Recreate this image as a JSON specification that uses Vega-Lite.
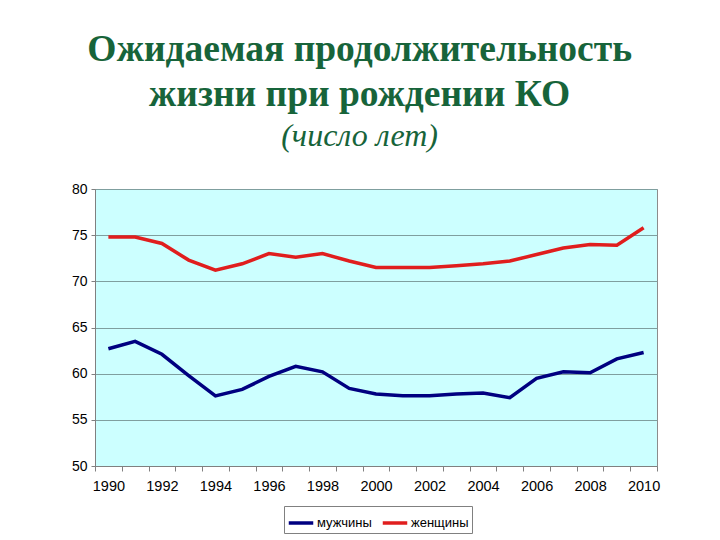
{
  "$schema": "https://vega.github.io/schema/vega-lite/v6.json",
  "width": 562,
  "height": 277,
  "autosize": {"type": "none"},
  "padding": {"left": 95, "top": 189, "right": 63, "bottom": 74},
  "background": "white",
  "title": {
    "text": ["Ожидаемая продолжительность", "жизни при рождении КО"],
    "subtitle": "(число лет)",
    "font": "Liberation Serif",
    "fontSize": 37.5,
    "fontWeight": "bold",
    "color": "#17643a",
    "lineHeight": 45,
    "subtitleFont": "Liberation Serif",
    "subtitleFontSize": 32,
    "subtitleFontStyle": "italic",
    "subtitleFontWeight": "normal",
    "subtitleColor": "#17643a",
    "subtitlePadding": 8,
    "anchor": "middle",
    "frame": "bounds",
    "offset": 30,
    "dx": -6
  },
  "data": {
    "values": [
      {"year": "1990", "sex": "мужчины", "value": 62.7},
      {"year": "1991", "sex": "мужчины", "value": 63.5},
      {"year": "1992", "sex": "мужчины", "value": 62.1},
      {"year": "1993", "sex": "мужчины", "value": 59.8},
      {"year": "1994", "sex": "мужчины", "value": 57.6},
      {"year": "1995", "sex": "мужчины", "value": 58.3},
      {"year": "1996", "sex": "мужчины", "value": 59.7},
      {"year": "1997", "sex": "мужчины", "value": 60.8},
      {"year": "1998", "sex": "мужчины", "value": 60.2},
      {"year": "1999", "sex": "мужчины", "value": 58.4},
      {"year": "2000", "sex": "мужчины", "value": 57.8},
      {"year": "2001", "sex": "мужчины", "value": 57.6},
      {"year": "2002", "sex": "мужчины", "value": 57.6},
      {"year": "2003", "sex": "мужчины", "value": 57.8},
      {"year": "2004", "sex": "мужчины", "value": 57.9},
      {"year": "2005", "sex": "мужчины", "value": 57.4},
      {"year": "2006", "sex": "мужчины", "value": 59.5},
      {"year": "2007", "sex": "мужчины", "value": 60.2},
      {"year": "2008", "sex": "мужчины", "value": 60.1},
      {"year": "2009", "sex": "мужчины", "value": 61.6},
      {"year": "2010", "sex": "мужчины", "value": 62.3},
      {"year": "1990", "sex": "женщины", "value": 74.8},
      {"year": "1991", "sex": "женщины", "value": 74.8},
      {"year": "1992", "sex": "женщины", "value": 74.1},
      {"year": "1993", "sex": "женщины", "value": 72.3},
      {"year": "1994", "sex": "женщины", "value": 71.2},
      {"year": "1995", "sex": "женщины", "value": 71.9},
      {"year": "1996", "sex": "женщины", "value": 73.0},
      {"year": "1997", "sex": "женщины", "value": 72.6},
      {"year": "1998", "sex": "женщины", "value": 73.0},
      {"year": "1999", "sex": "женщины", "value": 72.2},
      {"year": "2000", "sex": "женщины", "value": 71.5},
      {"year": "2001", "sex": "женщины", "value": 71.5},
      {"year": "2002", "sex": "женщины", "value": 71.5},
      {"year": "2003", "sex": "женщины", "value": 71.7},
      {"year": "2004", "sex": "женщины", "value": 71.9},
      {"year": "2005", "sex": "женщины", "value": 72.2},
      {"year": "2006", "sex": "женщины", "value": 72.9},
      {"year": "2007", "sex": "женщины", "value": 73.6},
      {"year": "2008", "sex": "женщины", "value": 74.0},
      {"year": "2009", "sex": "женщины", "value": 73.9},
      {"year": "2010", "sex": "женщины", "value": 75.8}
    ]
  },
  "mark": {"type": "line", "strokeWidth": 3.5},
  "encoding": {
    "x": {
      "field": "year",
      "type": "ordinal",
      "bandPosition": 0.5,
      "scale": {"type": "band", "paddingInner": 0, "paddingOuter": 0},
      "axis": {
        "title": null,
        "grid": false,
        "labelAngle": 0,
        "tickBand": "extent",
        "labelExpr": "toNumber(datum.value) % 2 == 0 ? datum.label : ''",
        "labelOverlap": false,
        "labelFont": "Liberation Sans",
        "labelFontSize": 14.5,
        "labelColor": "#000000",
        "labelPadding": 8,
        "tickSize": 5,
        "tickColor": "#808080",
        "domainColor": "#808080"
      }
    },
    "y": {
      "field": "value",
      "type": "quantitative",
      "scale": {"domain": [50, 80], "nice": false, "zero": false},
      "axis": {
        "title": null,
        "values": [50, 55, 60, 65, 70, 75, 80],
        "grid": true,
        "gridColor": "#7f9f9f",
        "gridOpacity": 1,
        "labelFont": "Liberation Sans",
        "labelFontSize": 14,
        "labelColor": "#000000",
        "labelPadding": 4,
        "tickSize": 4,
        "tickColor": "#808080",
        "domainColor": "#808080"
      }
    },
    "color": {
      "field": "sex",
      "type": "nominal",
      "scale": {"domain": ["мужчины", "женщины"], "range": ["#000080", "#e01e1e"]},
      "legend": {
        "title": null,
        "orient": "none",
        "legendX": 189,
        "legendY": 317,
        "direction": "horizontal",
        "symbolType": "stroke",
        "symbolStrokeWidth": 3.5,
        "symbolSize": 600,
        "labelFont": "Liberation Sans",
        "labelFontSize": 13,
        "labelColor": "#000000",
        "labelOffset": 2,
        "columnPadding": 3,
        "strokeColor": "#808080",
        "padding": 3
      }
    }
  },
  "config": {
    "view": {"fill": "#ccffff", "stroke": "#8c8c8c"}
  }
}
